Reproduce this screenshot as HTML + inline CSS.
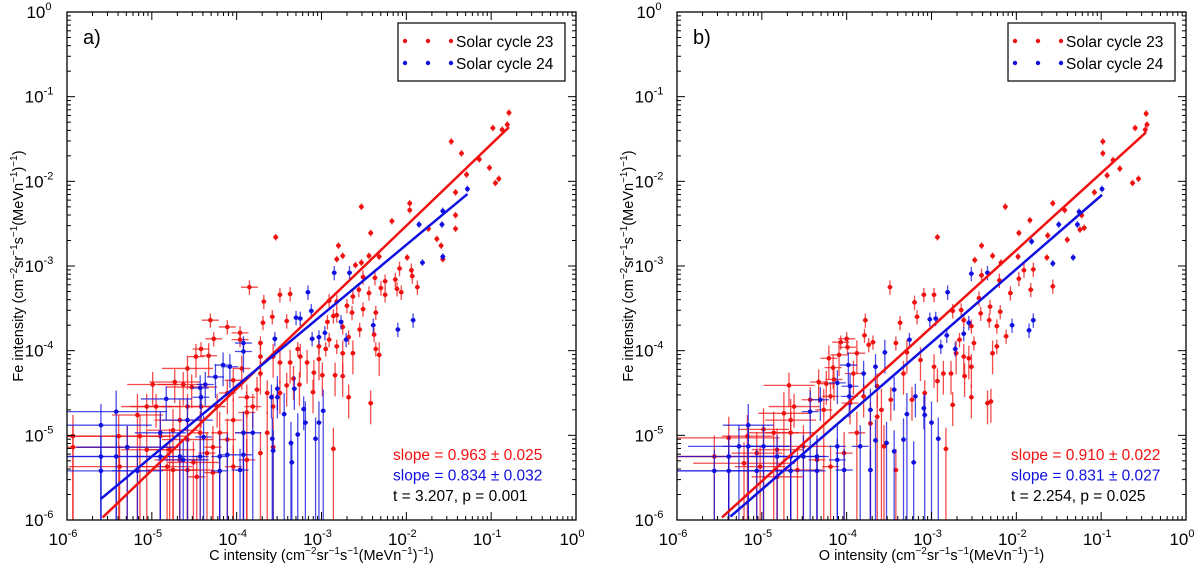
<!DOCTYPE html>
<html><head><meta charset="utf-8"><style>
body{margin:0;background:#fff;}
svg{display:block;font-family:"Liberation Sans",sans-serif;}
</style></head><body>
<svg id="chart" width="1200" height="573" viewBox="0 0 1200 573" xmlns="http://www.w3.org/2000/svg"></svg>
<script>
// Panel a: C vs Fe (log10 values)
const redA = [[-0.79,-1.19],[-0.98,-1.37],[-0.87,-1.39],[-0.81,-1.33],[-1.47,-1.53],[-1.35,-1.67],[-1.14,-1.74],[-1.02,-1.84],[-0.91,-1.97],[-0.95,-2.02],[-1.29,-1.92],[-1.42,-2.13],[-1.42,-2.40],[-1.42,-2.56],[-1.74,-2.56],[-1.96,-2.26],[-1.96,-2.34],[-2.17,-2.47],[-2.42,-2.61],[-2.53,-2.30],[-1.64,-2.68],[-1.59,-2.76],[-1.57,-2.92],[-1.99,-2.90],[-1.94,-3.05],[-1.93,-3.12],[-1.87,-3.25],[-2.08,-3.03],[-2.13,-3.16],[-2.11,-3.27],[-2.06,-3.31],[-2.25,-3.18],[-2.30,-3.26],[-2.25,-3.34],[-2.32,-2.89],[-2.44,-2.88],[-2.53,-2.96],[-2.60,-2.99],[-2.75,-2.88],[-2.80,-2.76],[-2.82,-2.92],[-2.51,-3.13],[-2.56,-3.28],[-2.44,-3.32],[-2.37,-3.14],[-2.36,-3.55],[-2.51,-3.51],[-2.63,-3.36],[-2.70,-3.47],[-2.82,-3.42],[-2.82,-3.58],[-2.64,-3.55],[-2.68,-3.84],[-2.75,-3.72],[-2.86,-3.59],[-2.93,-3.66],[-2.91,-3.41],[-2.91,-3.87],[-2.82,-3.95],[-2.75,-4.03],[-2.63,-4.03],[-2.55,-3.75],[-2.38,-3.81],[-2.36,-3.98],[-2.32,-4.05],[-2.95,-3.98],[-3.03,-3.95],[-3.03,-4.10],[-2.99,-4.29],[-3.09,-4.26],[-3.17,-4.14],[-3.25,-4.07],[-3.28,-3.98],[-3.37,-3.33],[-3.49,-3.34],[-3.41,-3.65],[-3.58,-3.60],[-3.68,-3.42],[-3.69,-3.67],[-3.85,-3.25],[-3.54,-2.66],[-3.72,-3.91],[-3.72,-4.07],[-3.57,-4.07],[-3.49,-4.14],[-3.37,-4.14],[-3.33,-4.33],[-3.41,-4.41],[-3.26,-4.40],[-3.10,-4.49],[-2.84,-4.29],[-2.75,-4.30],[-2.68,-4.55],[-2.42,-4.62],[-2.86,-5.16],[-3.96,-3.79],[-3.96,-3.87],[-4.27,-3.86],[-4.31,-3.64],[-4.11,-3.72],[-4.42,-3.98],[-4.48,-4.07],[-4.33,-4.06],[-4.58,-4.21],[-4.73,-4.37],[-4.99,-4.40],[-4.63,-4.40],[-4.53,-4.43],[-5.06,-4.66],[-4.95,-4.66],[-5.17,-4.76],[-3.94,-4.21],[-3.72,-4.27],[-3.76,-4.46],[-3.88,-4.55],[-4.04,-4.35],[-4.11,-4.50],[-4.23,-4.66],[-4.42,-4.66],[-4.58,-4.66],[-4.67,-4.82],[-4.75,-4.94],[-4.90,-5.01],[-5.14,-5.01],[-5.39,-5.01],[-5.93,-5.01],[-5.93,-5.14],[-5.29,-5.14],[-5.06,-5.17],[-4.79,-5.17],[-4.67,-5.29],[-4.51,-5.32],[-4.35,-5.21],[-4.20,-4.97],[-4.04,-4.82],[-3.88,-4.73],[-3.81,-4.66],[-3.64,-4.50],[-3.57,-4.66],[-3.49,-4.50],[-3.92,-4.97],[-4.11,-5.05],[-4.28,-5.14],[-4.43,-4.97],[-4.58,-5.05],[-4.75,-5.41],[-4.82,-5.37],[-4.58,-5.41],[-4.47,-5.49],[-4.28,-5.44],[-4.04,-5.37],[-3.88,-5.29],[-3.72,-5.21],[-3.64,-4.97],[-3.57,-5.14],[-5.38,-5.37]];
const blueA = [[-1.28,-2.09],[-1.57,-2.35],[-1.58,-2.51],[-1.85,-2.51],[-1.57,-2.89],[-1.81,-2.96],[-2.85,-3.08],[-2.67,-3.08],[-3.16,-3.31],[-3.12,-3.53],[-3.30,-3.61],[-3.25,-3.62],[-2.77,-3.66],[-1.92,-3.64],[-2.10,-3.75],[-2.39,-3.70],[-2.71,-3.87],[-2.96,-3.79],[-3.03,-3.84],[-3.11,-3.86],[-3.55,-3.86],[-3.92,-3.91],[-3.92,-4.01],[-4.16,-4.17],[-4.08,-4.19],[-4.25,-4.31],[-4.37,-4.40],[-4.43,-4.44],[-4.42,-4.55],[-4.83,-4.57],[-3.52,-4.45],[-3.52,-4.55],[-3.59,-4.55],[-3.44,-4.75],[-3.32,-4.45],[-3.21,-4.69],[-3.19,-4.85],[-3.03,-4.85],[-2.98,-4.71],[-3.07,-5.04],[-3.28,-4.99],[-3.36,-5.09],[-3.35,-5.32],[-3.58,-5.04],[-3.57,-5.18],[-3.92,-4.97],[-3.92,-5.23],[-3.81,-4.97],[-4.11,-5.23],[-4.39,-5.02],[-4.58,-4.82],[-4.90,-4.97],[-5.42,-4.72],[-5.60,-4.88],[-5.60,-5.25],[-5.60,-5.42],[-5.42,-5.25],[-5.29,-5.14],[-5.17,-5.42],[-4.90,-5.25],[-4.67,-5.25],[-4.43,-5.25],[-4.20,-5.25],[-4.20,-5.42],[-3.96,-5.41],[-4.63,-5.29]];
// Panel b: O vs Fe
const redB = [[-0.47,-1.20],[-0.60,-1.37],[-0.48,-1.39],[-0.46,-1.33],[-0.98,-1.53],[-0.98,-1.67],[-0.86,-1.75],[-0.78,-1.85],[-0.93,-1.93],[-0.63,-2.02],[-0.56,-1.97],[-1.08,-2.13],[-1.43,-2.34],[-1.23,-2.40],[-1.20,-2.55],[-1.25,-2.57],[-1.40,-2.69],[-1.57,-2.26],[-1.84,-2.46],[-1.97,-2.61],[-2.13,-2.30],[-1.63,-2.64],[-1.64,-2.90],[-1.80,-3.04],[-1.57,-3.24],[-1.83,-3.28],[-1.98,-2.89],[-1.91,-3.05],[-1.97,-3.15],[-2.07,-3.32],[-2.18,-2.96],[-2.20,-3.17],[-2.28,-2.88],[-2.41,-2.76],[-2.49,-2.93],[-2.41,-3.11],[-2.44,-3.38],[-2.31,-3.48],[-2.19,-3.54],[-2.32,-3.64],[-2.12,-3.83],[-2.23,-3.71],[-2.42,-3.56],[-2.53,-3.71],[-2.50,-3.91],[-2.62,-3.64],[-2.65,-3.52],[-2.75,-3.53],[-2.67,-3.87],[-2.62,-4.07],[-2.71,-4.03],[-2.23,-3.95],[-2.28,-4.03],[-2.53,-4.19],[-2.61,-4.30],[-2.77,-4.27],[-2.56,-4.09],[-2.97,-3.34],[-3.09,-3.34],[-3.20,-3.43],[-3.17,-3.60],[-3.37,-3.67],[-3.49,-3.25],[-2.93,-2.66],[-3.42,-3.91],[-3.29,-4.02],[-3.13,-4.11],[-2.97,-4.19],[-2.86,-4.27],[-2.93,-4.36],[-3.08,-4.50],[-3.23,-4.58],[-3.33,-4.27],[-3.48,-4.58],[-3.59,-4.70],[-2.75,-4.64],[-2.53,-4.55],[-2.34,-4.62],[-2.30,-4.60],[-2.83,-5.16],[-3.74,-3.93],[-3.78,-3.64],[-3.79,-3.82],[-3.69,-3.90],[-4.00,-3.86],[-4.07,-3.90],[-3.99,-3.96],[-3.88,-4.03],[-4.21,-4.09],[-4.09,-4.05],[-4.16,-4.20],[-4.33,-4.37],[-4.68,-4.41],[-4.24,-4.39],[-4.15,-4.34],[-3.92,-4.27],[-3.64,-4.42],[-3.80,-4.54],[-3.96,-4.62],[-4.19,-4.54],[-4.27,-4.70],[-4.43,-4.58],[-4.62,-4.66],[-4.66,-4.82],[-4.74,-4.74],[-4.86,-4.97],[-4.98,-4.93],[-5.17,-5.01],[-5.39,-5.03],[-5.56,-5.25],[-5.39,-5.25],[-5.21,-5.33],[-5.06,-5.21],[-4.82,-5.17],[-4.66,-4.97],[-4.51,-5.13],[-4.35,-5.29],[-4.19,-5.37],[-4.03,-5.21],[-3.88,-4.97],[-3.72,-4.86],[-3.56,-5.13],[-3.42,-5.41],[-4.58,-5.41],[-4.82,-5.49],[-5.02,-5.37],[-3.64,-4.78]];
const blueB = [[-0.99,-2.09],[-1.50,-2.51],[-1.28,-2.51],[-1.26,-2.36],[-1.33,-2.90],[-1.82,-2.71],[-1.57,-2.97],[-2.53,-3.09],[-2.34,-3.08],[-2.81,-3.31],[-2.95,-3.62],[-3.02,-3.63],[-3.26,-3.87],[-2.56,-3.67],[-2.05,-3.70],[-1.80,-3.64],[-1.85,-3.76],[-2.82,-3.82],[-2.89,-3.95],[-2.72,-3.98],[-2.62,-3.80],[-3.55,-4.02],[-3.66,-4.19],[-3.80,-4.27],[-3.98,-4.17],[-4.11,-4.38],[-3.96,-4.42],[-3.97,-4.54],[-4.31,-4.58],[-4.43,-4.72],[-3.44,-4.46],[-3.19,-4.54],[-3.29,-4.75],[-3.09,-4.68],[-3.08,-4.76],[-3.00,-4.85],[-2.92,-5.04],[-3.21,-5.32],[-3.33,-5.05],[-3.44,-5.19],[-3.53,-5.09],[-3.66,-5.06],[-3.72,-4.70],[-3.84,-5.13],[-4.11,-5.13],[-4.11,-5.29],[-4.35,-5.25],[-4.51,-5.25],[-4.66,-5.25],[-4.82,-5.25],[-4.98,-5.13],[-5.16,-4.88],[-5.16,-5.13],[-5.27,-5.13],[-5.39,-5.25],[-5.56,-5.42],[-5.39,-5.42],[-5.06,-5.42],[-4.66,-5.42],[-4.35,-5.42],[-4.03,-5.41],[-3.72,-5.41]];
// Fit lines: [x0, y0, x1, y1] in log10 units
const fitRedA = [-5.58,-5.97,-0.79,-1.36];
const fitBlueA = [-5.60,-5.75,-1.28,-2.15];
const fitRedB = [-5.47,-5.97,-0.47,-1.42];
const fitBlueB = [-5.37,-5.96,-0.99,-2.16];
const statsA = ["slope = 0.963 \u00b1 0.025","slope = 0.834 \u00b1 0.032","t = 3.207, p = 0.001"];
const statsB = ["slope = 0.910 \u00b1 0.022","slope = 0.831 \u00b1 0.027","t = 2.254, p = 0.025"];
const decades = [-6,-5,-4,-3,-2,-1,0];

const NS="http://www.w3.org/2000/svg";
const svg=document.getElementById('chart');
function mk(tag,attrs,parent){const e=document.createElementNS(NS,tag);for(const k in attrs)e.setAttribute(k,attrs[k]);(parent||svg).appendChild(e);return e;}
const RED="#f01010",BLUE="#1010e0";

function panel(px,label,xname,red,blue,fr,fb,stats){
  const L=px,R=px+509,T=12,B=520;
  const sx=v=>L+(v+6)/6*(R-L);
  const sy=v=>T+(-v)/6*(B-T);
  const g=mk('g',{});
  
  
  const clip=mk('clipPath',{id:'clip'+label},g);
  mk('rect',{x:L,y:T,width:R-L,height:B-T},clip);
  const plot=mk('g',{'clip-path':'url(#clip'+label+')'},g);
  function series(pts,col,name){
    const sg=mk('g',{},plot);
    
    
    pts.forEach(p=>{
      const x=p[0],y=p[1];
      let dn=y>-3?0.04:y>-4?0.09:y>-4.7?0.25:6;
      let up=y>-3?0.04:y>-4?0.08:y>-4.7?0.15:0.25;
      mk('line',{x1:sx(x),x2:sx(x),y1:sy(y+up),y2:sy(Math.max(-6.1,y-dn)),stroke:col,'stroke-width':1.3,'stroke-opacity':0.75},sg);
      let ex=x<-5.2?0.6:x<-4.5?0.3:x<-3.8?0.1:0.03;
      mk('line',{x1:sx(x-ex),x2:sx(x+ex),y1:sy(y),y2:sy(y),stroke:col,'stroke-width':1.3,'stroke-opacity':0.75},sg);
      const c=mk('circle',{cx:sx(x),cy:sy(y),r:2.3,fill:col},sg);
      
      
    });
  }
  series(red,RED,'solar-cycle-23-'+label);
  series(blue,BLUE,'solar-cycle-24-'+label);
  const l1=mk('line',{x1:sx(fr[0]),y1:sy(fr[1]),x2:sx(fr[2]),y2:sy(fr[3]),stroke:RED,'stroke-width':2.5},plot);
  
  
  const l2=mk('line',{x1:sx(fb[0]),y1:sy(fb[1]),x2:sx(fb[2]),y2:sy(fb[3]),stroke:BLUE,'stroke-width':2.5},plot);
  
  
  // frame
  const fr0=mk('rect',{x:L,y:T,width:R-L,height:B-T,fill:'none',stroke:'#000','stroke-width':1.3},g);
  
  
  // ticks
  decades.forEach((d,i)=>{
    [[sx(d),'x'],[sy(d),'y']].forEach(([p,ax])=>{
      if(ax==='x'){mk('line',{x1:p,x2:p,y1:B,y2:B-8,stroke:'#000'},g);mk('line',{x1:p,x2:p,y1:T,y2:T+8,stroke:'#000'},g);}
      else{mk('line',{x1:L,x2:L+8,y1:p,y2:p,stroke:'#000'},g);mk('line',{x1:R,x2:R-8,y1:p,y2:p,stroke:'#000'},g);}
    });
    if(i<decades.length-1){
      for(let m=2;m<10;m++){
        const v=d+Math.log10(m);
        const xp=sx(v),yp=sy(v);
        mk('line',{x1:xp,x2:xp,y1:B,y2:B-4,stroke:'#000'},g);mk('line',{x1:xp,x2:xp,y1:T,y2:T+4,stroke:'#000'},g);
        mk('line',{x1:L,x2:L+4,y1:yp,y2:yp,stroke:'#000'},g);mk('line',{x1:R,x2:R-4,y1:yp,y2:yp,stroke:'#000'},g);
      }
    }
    const tx=mk('text',{x:sx(d)-4,y:B+25,'font-size':17,'text-anchor':'middle'},g);
    
    
    tx.innerHTML='10<tspan dy="-8" font-size="11">'+d+'</tspan>';
    const ty=mk('text',{x:L-28,y:sy(d)+6,'font-size':17,'text-anchor':'middle'},g);
    
    
    ty.innerHTML='10<tspan dy="-8" font-size="11">'+d+'</tspan>';
  });
  const pl=mk('text',{x:L+16,y:T+32,'font-size':20},g);
  
  
  pl.textContent=label+')';
  // legend
  const lg=mk('g',{},g);
  
  
  mk('rect',{x:R-178,y:T+11,width:167,height:58,fill:'#fff',stroke:'#000','stroke-width':1.2},lg);
  [[RED,'Solar cycle 23',29],[BLUE,'Solar cycle 24',51]].forEach(([c,t,yy])=>{
    [R-171,R-148,R-125].forEach(xx=>mk('circle',{cx:xx,cy:T+yy,r:2.2,fill:c},lg));
    const e=mk('text',{x:R-120,y:T+yy+6,'font-size':15.5},lg);
    
    
    e.textContent=t;
  });
  [[RED,0],[BLUE,1],['#000',2]].forEach(([c,i])=>{
    const e=mk('text',{x:R-183+(label==='b'?8:0),y:460+i*20.5,'font-size':15.5,fill:c},g);
    
    
    e.textContent=stats[i];
  });
  const xl=mk('text',{x:(L+R)/2,y:560,'font-size':14.5,'text-anchor':'middle'},g);
  
  
  xl.innerHTML=xname+' intensity (cm<tspan dy="-6" font-size="10">\u22122</tspan><tspan dy="6">sr</tspan><tspan dy="-6" font-size="10">\u22121</tspan><tspan dy="6">s</tspan><tspan dy="-6" font-size="10">\u22121</tspan><tspan dy="6">(MeVn</tspan><tspan dy="-6" font-size="10">\u22121</tspan><tspan dy="6">)</tspan><tspan dy="-6" font-size="10">\u22121</tspan><tspan dy="6">)</tspan>';
  const yl=mk('text',{x:0,y:0,'font-size':14.5,'text-anchor':'middle',transform:'translate('+(L-44)+','+((T+B)/2)+') rotate(-90)'},g);
  
  
  yl.innerHTML='Fe intensity (cm<tspan dy="-6" font-size="10">\u22122</tspan><tspan dy="6">sr</tspan><tspan dy="-6" font-size="10">\u22121</tspan><tspan dy="6">s</tspan><tspan dy="-6" font-size="10">\u22121</tspan><tspan dy="6">(MeVn</tspan><tspan dy="-6" font-size="10">\u22121</tspan><tspan dy="6">)</tspan><tspan dy="-6" font-size="10">\u22121</tspan><tspan dy="6">)</tspan>';
}
panel(67,'a','C',redA,blueA,fitRedA,fitBlueA,statsA);
panel(677,'b','O',redB,blueB,fitRedB,fitBlueB,statsB);
</script>
</body></html>
